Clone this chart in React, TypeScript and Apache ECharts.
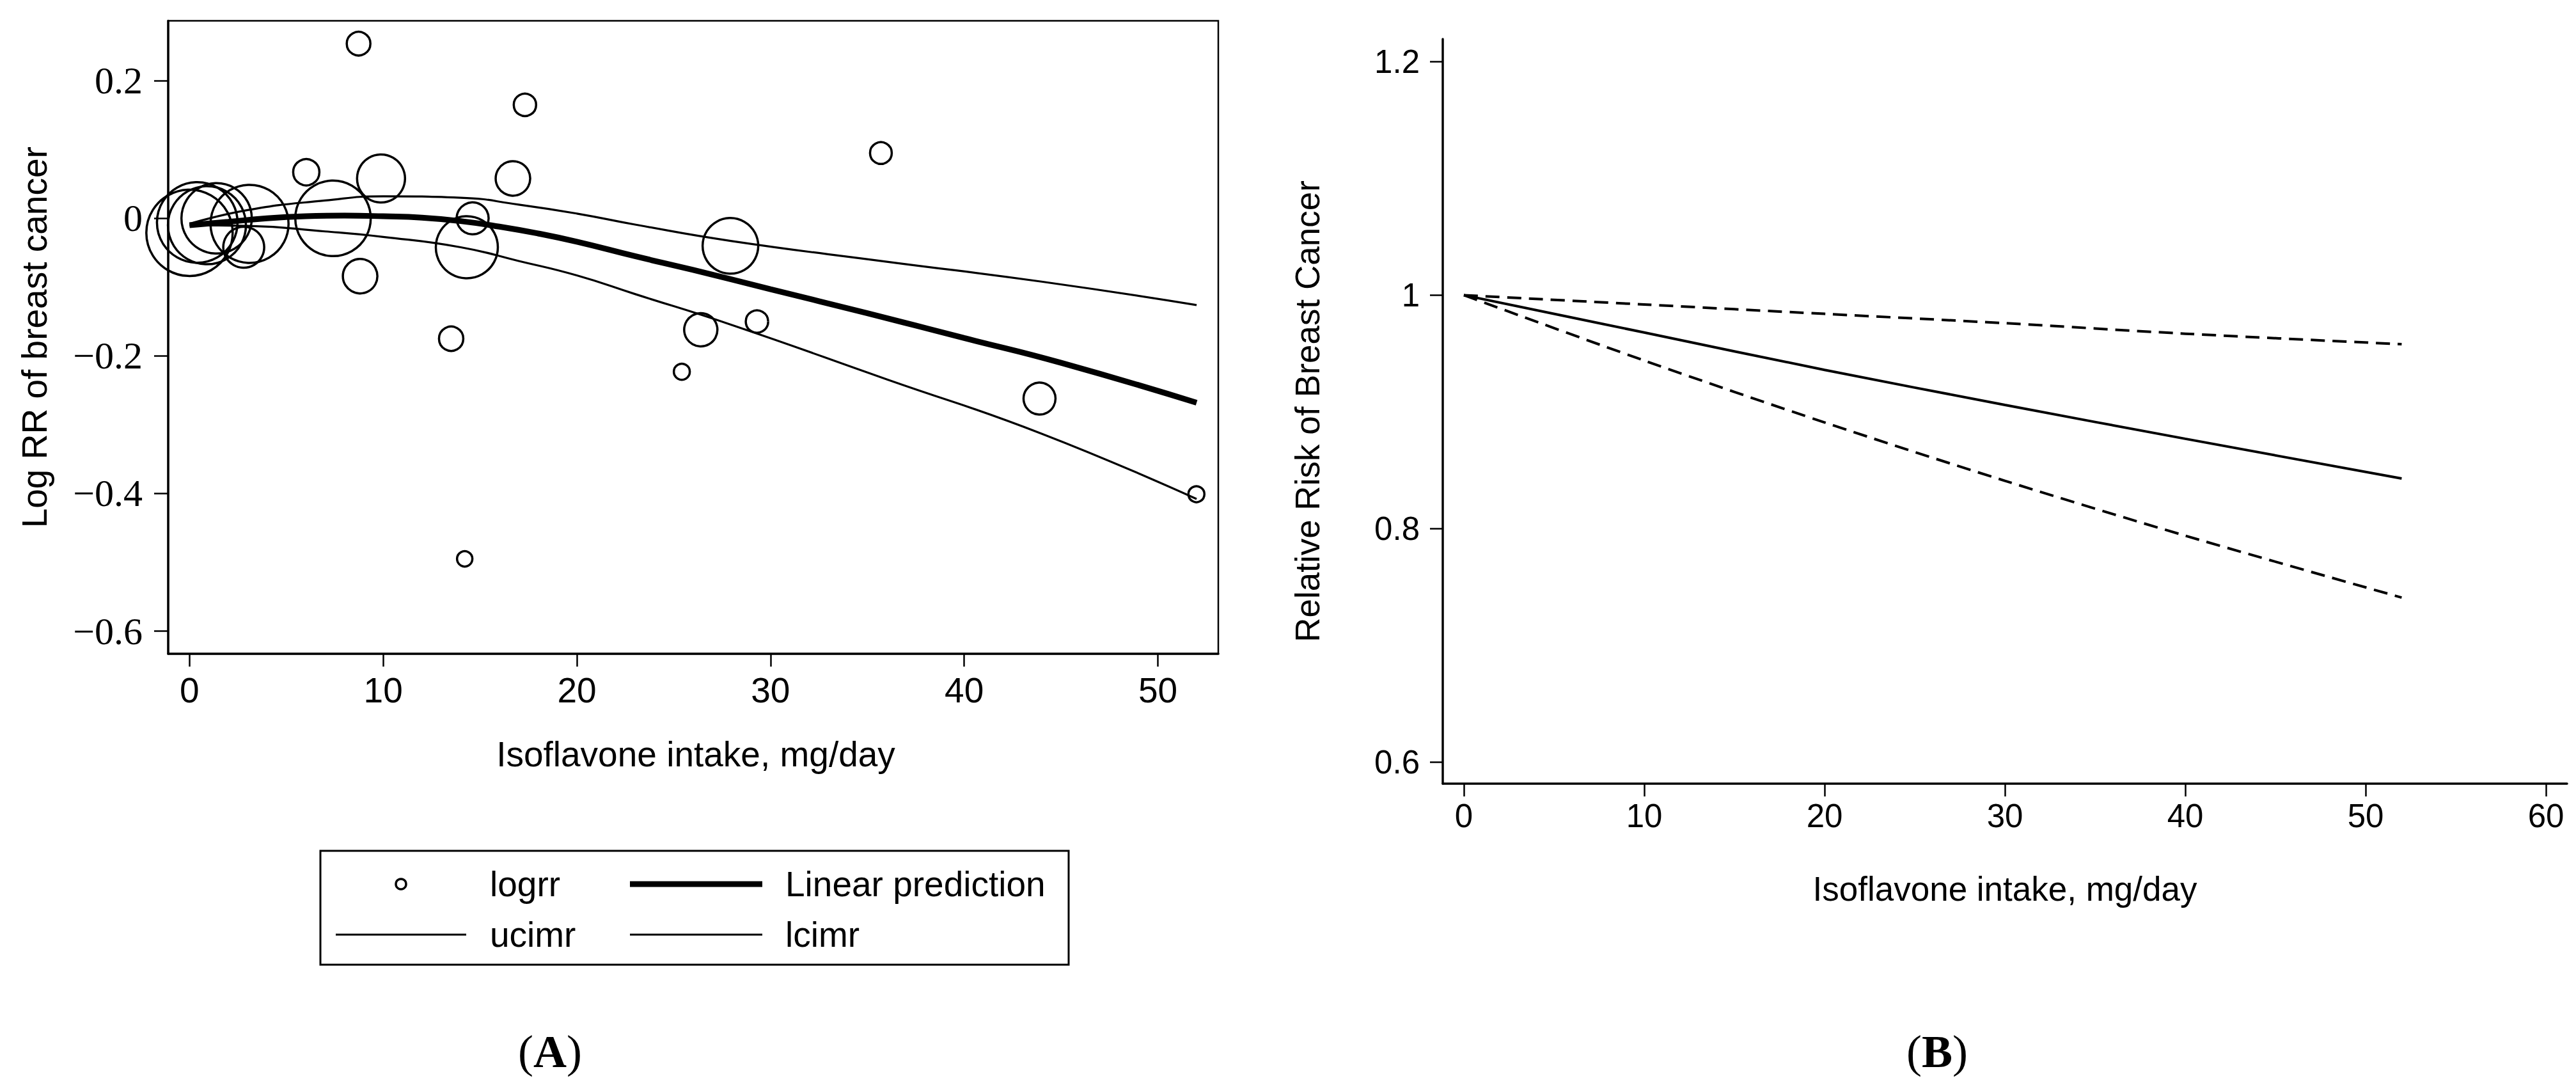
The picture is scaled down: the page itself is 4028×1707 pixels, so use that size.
import React, { useEffect, useRef } from "react";
import * as echarts from "echarts";

// ---------- Panel A data ----------
const logrrX = [0.0, 0.4, 0.9, 1.4, 3.1, 2.8, 6.03, 7.41, 8.73, 8.81, 9.89, 13.51, 14.21, 14.32, 14.62, 16.7, 17.32, 25.42, 26.4, 27.93, 29.3, 35.7, 43.89, 51.99];
const logrrY = [-0.021, -0.006, -0.01, 0.0, -0.008, -0.042, 0.067, 0.0, 0.254, -0.084, 0.058, -0.175, -0.495, -0.042, 0.0, 0.058, 0.165, -0.223, -0.162, -0.04, -0.15, 0.095, -0.262, -0.401];
const logrrSize = [135, 126, 122, 110, 122, 64, 41, 118, 37, 54, 75, 38, 24, 97, 50, 54, 35, 25, 52, 87, 35, 34, 50, 25];

const predX = [0, 2, 4, 6, 8, 10, 12, 14, 16, 18, 20, 23, 26, 30, 35, 40, 45, 52];
const predY = [-0.01, -0.005, 0.0, 0.003, 0.004, 0.003, 0.001, -0.004, -0.012, -0.022, -0.034, -0.055, -0.075, -0.103, -0.138, -0.174, -0.21, -0.268];

const ciX = [0, 3, 7, 10, 14, 17, 20, 23, 28, 36, 44, 52];
const uciY = [-0.008, 0.012, 0.026, 0.032, 0.03, 0.02, 0.007, -0.009, -0.033, -0.063, -0.092, -0.126];
const lciY = [-0.01, -0.011, -0.019, -0.027, -0.042, -0.062, -0.083, -0.11, -0.155, -0.234, -0.313, -0.408];

const aXTicks = [0, 10, 20, 30, 40, 50];
const aYTicks = [0.2, 0, -0.2, -0.4, -0.6];

// ---------- Panel B data ----------
const bX = [0, 10, 20, 30, 40, 52];
const bRR = [1, 0.968, 0.936, 0.906, 0.877, 0.843];
const bUpper = [1, 0.992, 0.984, 0.976, 0.967, 0.958];
const bLower = [1, 0.944, 0.891, 0.841, 0.794, 0.741];

const bXTicks = [0, 10, 20, 30, 40, 50, 60];
const bYTicks = [0.6, 0.8, 1, 1.2];

const SANS = "Liberation Sans, Arial, sans-serif";
const SERIF = "Liberation Serif, Times New Roman, serif";

const zip = (xs: number[], ys: number[]) => xs.map((x, i) => [x, ys[i]]);
const fmtA = (v: number) => (Math.abs(v) < 1e-9 ? "0" : String(v).replace("-", "\u2212"));

export default function App() {
  const ref = useRef<HTMLDivElement>(null);
  useEffect(() => {
    if (!ref.current) return;
    const chart = echarts.init(ref.current, undefined, { renderer: "svg" });

    // Panel A geometry
    const aL = 263, aT = 32.5, aR = 1905, aB = 1022;
    // Panel B geometry
    const bL = 2256, bT = 61, bR = 4014, bB = 1225;

    const baseGraphics: any[] = [
      // Panel A axis titles
      {
        type: "text", x: 54, y: (aT + aB) / 2, rotation: Math.PI / 2,
        style: { text: "Log RR of breast cancer", font: `55px ${SANS}`, fill: "#000", align: "center", verticalAlign: "middle" },
      },
      {
        type: "text", x: 1088, y: 1179,
        style: { text: "Isoflavone intake, mg/day", font: `55px ${SANS}`, fill: "#000", align: "center", verticalAlign: "middle" },
      },
      // Legend box
      {
        type: "rect", shape: { x: 501, y: 1330, width: 1170, height: 178 },
        style: { fill: "#fff", stroke: "#000", lineWidth: 3 },
      },
      { type: "circle", shape: { cx: 627, cy: 1382, r: 8 }, style: { fill: "none", stroke: "#000", lineWidth: 3.5 } },
      { type: "text", x: 766, y: 1382, style: { text: "logrr", font: `55px ${SANS}`, fill: "#000", align: "left", verticalAlign: "middle" } },
      { type: "line", shape: { x1: 985, y1: 1382, x2: 1192, y2: 1382 }, style: { stroke: "#000", lineWidth: 9 } },
      { type: "text", x: 1228, y: 1382, style: { text: "Linear prediction", font: `55px ${SANS}`, fill: "#000", align: "left", verticalAlign: "middle" } },
      { type: "line", shape: { x1: 525, y1: 1461, x2: 729, y2: 1461 }, style: { stroke: "#000", lineWidth: 3.2 } },
      { type: "text", x: 766, y: 1461, style: { text: "ucimr", font: `55px ${SANS}`, fill: "#000", align: "left", verticalAlign: "middle" } },
      { type: "line", shape: { x1: 985, y1: 1461, x2: 1192, y2: 1461 }, style: { stroke: "#000", lineWidth: 3.2 } },
      { type: "text", x: 1228, y: 1461, style: { text: "lcimr", font: `55px ${SANS}`, fill: "#000", align: "left", verticalAlign: "middle" } },
      // Panel labels
      {
        type: "text", x: 860, y: 1644,
        style: {
          text: "{n|(}{b|A}{n|)}", align: "center", verticalAlign: "middle",
          rich: {
            n: { font: `72px ${SERIF}`, fill: "#000" },
            b: { font: `bold 72px ${SERIF}`, fill: "#000" },
          },
        },
      },
      // Panel B axis titles
      {
        type: "text", x: 2044, y: (bT + bB) / 2, rotation: Math.PI / 2,
        style: { text: "Relative Risk of Breast Cancer", font: `53px ${SANS}`, fill: "#000", align: "center", verticalAlign: "middle" },
      },
      {
        type: "text", x: (bL + bR) / 2, y: 1389,
        style: { text: "Isoflavone intake, mg/day", font: `53px ${SANS}`, fill: "#000", align: "center", verticalAlign: "middle" },
      },
      {
        type: "text", x: 3029, y: 1644,
        style: {
          text: "{n|(}{b|B}{n|)}", align: "center", verticalAlign: "middle",
          rich: {
            n: { font: `72px ${SERIF}`, fill: "#000" },
            b: { font: `bold 72px ${SERIF}`, fill: "#000" },
          },
        },
      },
    ];

    const option: any = {
      animation: false,
      backgroundColor: "#fff",
      grid: [
        {
          left: aL, top: aT, width: aR - aL, height: aB - aT,
          show: true, borderColor: "#000", borderWidth: 2.5, backgroundColor: "transparent",
          containLabel: false,
        },
        {
          left: bL, top: bT, width: bR - bL, height: bB - bT,
          show: false, containLabel: false,
        },
      ],
      xAxis: [
        {
          gridIndex: 0, type: "value", min: -1.1, max: 53.12,
          axisLine: { show: true, onZero: false, lineStyle: { color: "#000", width: 3.5 } },
          axisTick: { show: true, length: 20, customValues: aXTicks, lineStyle: { color: "#000", width: 2.5 } },
          axisLabel: { customValues: aXTicks, fontSize: 55, fontFamily: SANS, color: "#000", margin: 29 },
          splitLine: { show: false },
        },
        {
          gridIndex: 1, type: "value", min: -1.17, max: 61.17,
          axisLine: { show: true, onZero: false, lineStyle: { color: "#000", width: 3.5 } },
          axisTick: { show: true, length: 20, customValues: bXTicks, lineStyle: { color: "#000", width: 2.5 } },
          axisLabel: { customValues: bXTicks, fontSize: 51, fontFamily: SANS, color: "#000", margin: 25 },
          splitLine: { show: false },
        },
      ],
      yAxis: [
        {
          gridIndex: 0, type: "value", min: -0.633, max: 0.2872,
          axisLine: { show: true, onZero: false, lineStyle: { color: "#000", width: 3.5 } },
          axisTick: { show: true, length: 22, customValues: aYTicks, lineStyle: { color: "#000", width: 2.5 } },
          axisLabel: { show: false },
          splitLine: { show: false },
        },
        {
          gridIndex: 1, type: "value", min: 0.5816, max: 1.2194,
          axisLine: { show: true, onZero: false, lineStyle: { color: "#000", width: 3.5 } },
          axisTick: { show: true, length: 20, customValues: bYTicks, lineStyle: { color: "#000", width: 2.5 } },
          axisLabel: { customValues: bYTicks, fontSize: 51, fontFamily: SANS, color: "#000", margin: 36 },
          splitLine: { show: false },
        },
      ],
      series: [
        {
          name: "logrr", type: "scatter", xAxisIndex: 0, yAxisIndex: 0, silent: true,
          data: logrrX.map((x, i) => [x, logrrY[i], logrrSize[i]]),
          symbol: "circle",
          symbolSize: (v: number[]) => v[2],
          itemStyle: { color: "transparent", borderColor: "#000", borderWidth: 3.5, opacity: 1 },
          z: 2,
        },
        {
          name: "ucimr", type: "line", xAxisIndex: 0, yAxisIndex: 0, silent: true,
          data: zip(ciX, uciY), showSymbol: false, smooth: 0.5,
          lineStyle: { color: "#000", width: 3.2 }, z: 3,
        },
        {
          name: "lcimr", type: "line", xAxisIndex: 0, yAxisIndex: 0, silent: true,
          data: zip(ciX, lciY), showSymbol: false, smooth: 0.5,
          lineStyle: { color: "#000", width: 3.2 }, z: 3,
        },
        {
          name: "Linear prediction", type: "line", xAxisIndex: 0, yAxisIndex: 0, silent: true,
          data: zip(predX, predY), showSymbol: false, smooth: 0.5,
          lineStyle: { color: "#000", width: 9 }, z: 4,
        },
        {
          name: "RR", type: "line", xAxisIndex: 1, yAxisIndex: 1, silent: true,
          data: zip(bX, bRR), showSymbol: false, smooth: 0.3,
          lineStyle: { color: "#000", width: 4 },
        },
        {
          name: "Upper", type: "line", xAxisIndex: 1, yAxisIndex: 1, silent: true,
          data: zip(bX, bUpper), showSymbol: false, smooth: 0.3,
          lineStyle: { color: "#000", width: 4, type: [22, 12] },
        },
        {
          name: "Lower", type: "line", xAxisIndex: 1, yAxisIndex: 1, silent: true,
          data: zip(bX, bLower), showSymbol: false, smooth: 0.3,
          lineStyle: { color: "#000", width: 4, type: [22, 12] },
        },
      ],
      graphic: baseGraphics,
    };
    chart.setOption(option);

    // Serif tick labels for panel A's y axis, placed through the axis' own scale
    const yLabels = aYTicks.map((v) => {
      const py = chart.convertToPixel({ yAxisIndex: 0 } as any, v) as number;
      return {
        type: "text", x: aL - 40, y: py,
        style: { text: fmtA(v), font: `60px ${SERIF}`, fill: "#000", align: "right", verticalAlign: "middle" },
      };
    });
    chart.setOption({ graphic: [...baseGraphics, ...yLabels] });

    return () => chart.dispose();
  }, []);

  return (
    <div
      ref={ref}
      style={{ position: "fixed", left: 0, top: 0, width: 4028, height: 1707, background: "#fff" }}
    />
  );
}
